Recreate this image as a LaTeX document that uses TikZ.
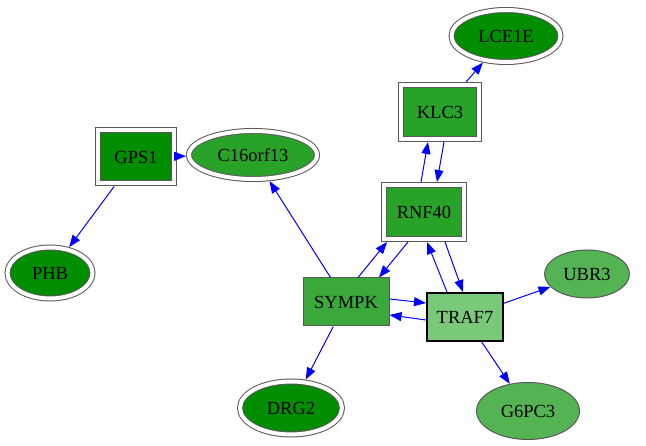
\documentclass[tikz,border=0pt]{standalone}
\usepackage{fontspec}
\setmainfont{Liberation Serif}
\usetikzlibrary{shapes.geometric,arrows.meta}

\definecolor{dkgreen}{RGB}{0,142,0}
\definecolor{mdgreen}{RGB}{40,162,40}
\definecolor{sygreen}{RGB}{58,168,58}
\definecolor{ltgreen}{RGB}{122,200,122}
\definecolor{pagreen}{RGB}{84,180,84}

\begin{document}
\begin{tikzpicture}[x=1pt,y=1pt,
  font=\fontsize{18.5}{20}\selectfont,
  gene/.style={draw=black!65, line width=1pt, inner sep=0pt},
  box/.style={gene, rectangle},
  egg/.style={gene, ellipse},
  twin/.style={double=white, double distance=4pt, outer sep=3pt},
  link/.style={-{Triangle[length=12pt,width=9pt]}, blue, line width=1pt}]

  \useasboundingbox (0,0) rectangle (646,446);

  % Boxes
  \node[box, twin, fill=dkgreen, minimum width=76, minimum height=53] (gps1) at (136,289) {GPS1};
  \node[box, twin, fill=mdgreen, minimum width=78, minimum height=54] (klc3) at (440,334) {KLC3};
  \node[box, twin, fill=mdgreen, minimum width=80, minimum height=54] (rnf40) at (424,234) {RNF40};
  \node[box, fill=sygreen, minimum width=86, minimum height=48] (sympk) at (346,144) {SYMPK};
  \node[box, fill=ltgreen, line width=2pt, draw=black, minimum width=76, minimum height=48] (traf7) at (465,129) {TRAF7};

  % Ellipses
  \node[egg, twin, fill=mdgreen, minimum width=128, minimum height=48] (c16) at (253,291) {C16orf13};
  \node[egg, twin, fill=dkgreen, minimum width=109, minimum height=52] (lce1e) at (506,410) {LCE1E};
  \node[egg, twin, fill=dkgreen, minimum width=85, minimum height=51] (phb) at (50,173) {PHB};
  \node[egg, twin, fill=dkgreen, minimum width=102, minimum height=53] (drg2) at (291,38) {DRG2};
  \node[egg, fill=pagreen, minimum width=85, minimum height=48] (ubr3) at (587,172) {UBR3};
  \node[egg, fill=pagreen, minimum width=103, minimum height=57] (g6pc3) at (528,35) {G6PC3};

  % Single links
  \draw[link] (gps1) -- (c16);
  \draw[link] (gps1) -- (phb);
  \draw[link] (sympk) -- (c16);
  \draw[link] (klc3) -- (lce1e);
  \draw[link] (traf7) -- (ubr3);
  \draw[link] (sympk) -- (drg2);
  \draw[link] (traf7) -- (g6pc3);

  % Paired links
  \draw[link] ([xshift=-3]rnf40.north) -- ([xshift=-12]klc3.south);
  \draw[link] ([xshift=4]klc3.south) -- ([xshift=13]rnf40.north);
  \draw[link] ([xshift=12]sympk.north) -- ([xshift=-37]rnf40.south);
  \draw[link] ([xshift=-16]rnf40.south) -- ([xshift=33]sympk.north);
  \draw[link] ([xshift=-18]traf7.north) -- ([xshift=3]rnf40.south);
  \draw[link] ([xshift=21]rnf40.south) -- ([xshift=-2]traf7.north);
  \draw[link] ([yshift=3]sympk.east) -- ([yshift=14]traf7.west);
  \draw[link] ([yshift=-3]traf7.west) -- ([yshift=-13]sympk.east);

\end{tikzpicture}
\end{document}
